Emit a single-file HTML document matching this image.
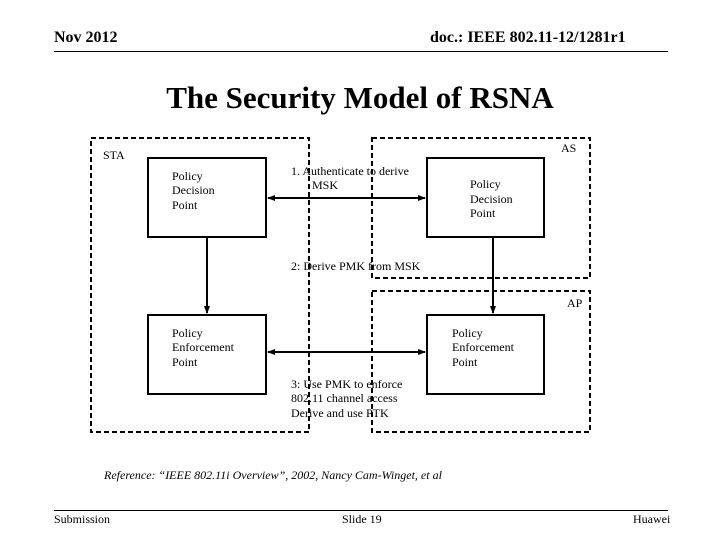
<!DOCTYPE html>
<html><head><meta charset="utf-8"><style>
body{margin:0;width:720px;height:540px;background:#fff;position:relative;overflow:hidden;font-family:"Liberation Serif",serif;color:#000}
.a{position:absolute;white-space:nowrap}
</style></head><body>
<div class="a" style="left:54px;top:29px;font-size:16px;font-weight:bold">Nov 2012</div>
<div class="a" style="left:430px;top:29px;font-size:16px;font-weight:bold">doc.: IEEE 802.11-12/1281r1</div>
<div style="position:absolute;left:54px;top:51px;width:614px;border-top:1px solid #000"></div>
<div class="a" style="left:0;width:720px;text-align:center;top:80px;font-size:31px;font-weight:bold">The Security Model of RSNA</div>
<svg width="720" height="540" style="position:absolute;left:0;top:0" font-family="Liberation Serif, serif" font-size="12">
<defs><marker id="m" markerWidth="8" markerHeight="8" refX="7" refY="4" orient="auto-start-reverse" markerUnits="userSpaceOnUse"><path d="M0,1 L8,4 L0,7z"/></marker></defs>
<g fill="none" stroke="#000" stroke-width="2" stroke-dasharray="5,3">
<rect x="91" y="138" width="218" height="294"/>
<rect x="372" y="138" width="218" height="140"/>
<rect x="372" y="291" width="218" height="141"/>
</g>
<g fill="#fff" stroke="#000" stroke-width="2">
<rect x="148" y="158" width="118" height="79"/>
<rect x="427" y="158" width="117" height="79"/>
<rect x="148" y="315" width="118" height="79"/>
<rect x="427" y="315" width="117" height="79"/>
</g>
<g stroke="#000" stroke-width="2">
<line x1="268" y1="198" x2="425" y2="198" marker-start="url(#m)" marker-end="url(#m)"/>
<line x1="268" y1="352" x2="425" y2="352" marker-start="url(#m)" marker-end="url(#m)"/>
<line x1="207" y1="237" x2="207" y2="313" marker-end="url(#m)"/>
<line x1="493" y1="237" x2="493" y2="313" marker-end="url(#m)"/>
</g>
<text x="103" y="159">STA</text>
<text x="561" y="152">AS</text>
<text x="567" y="307">AP</text>
<text x="172" y="180">Policy</text><text x="172" y="194">Decision</text><text x="172" y="209">Point</text>
<text x="470" y="188">Policy</text><text x="470" y="203">Decision</text><text x="470" y="217">Point</text>
<text x="172" y="337">Policy</text><text x="172" y="351">Enforcement</text><text x="172" y="366">Point</text>
<text x="452" y="337">Policy</text><text x="452" y="351">Enforcement</text><text x="452" y="366">Point</text>
<text x="291" y="175">1.  Authenticate to derive</text><text x="312" y="189">MSK</text>
<text x="291" y="270">2:  Derive PMK from MSK</text>
<text x="291" y="388">3:  Use PMK to enforce</text><text x="291" y="402">802.11 channel access</text><text x="291" y="417">Derive and use PTK</text>
<text x="104" y="479" font-style="italic">Reference:  “IEEE 802.11i Overview”, 2002, Nancy Cam-Winget, et al</text>
</svg>
<div style="position:absolute;left:54px;top:510px;width:614px;border-top:1px solid #000"></div>
<div class="a" style="left:54px;top:512px;font-size:12px">Submission</div>
<div class="a" style="left:342px;top:512px;font-size:12px">Slide 19</div>
<div class="a" style="left:633px;top:512px;font-size:12px">Huawei</div>
</body></html>
